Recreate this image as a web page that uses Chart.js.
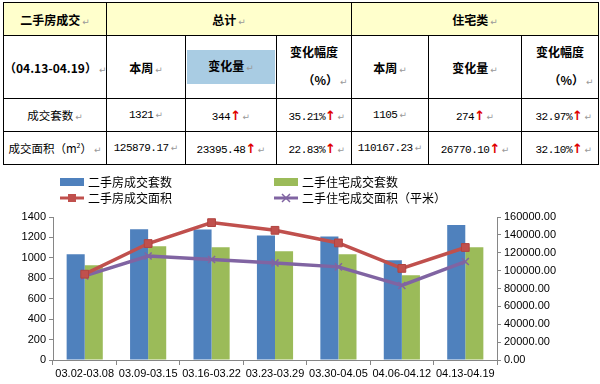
<!DOCTYPE html>
<html>
<head>
<meta charset="utf-8">
<script src="https://cdn.jsdelivr.net/npm/chart.js@4/dist/chart.umd.min.js"></script>
<style>
  html, body { margin: 0; padding: 0; background: #fff; }
  body { width: 600px; height: 384px; position: relative; overflow: hidden; }
  #tbl {
    position: absolute; left: 3px; top: 2px;
    border-collapse: collapse; table-layout: fixed; width: 595px;
    font-family: "Noto Sans CJK SC", sans-serif; font-size: 11.5px; color: #000;
  }
  #tbl td { border: 1px solid #000; text-align: center; padding: 0; white-space: nowrap; }
  #tbl tr.head td { background: #FFFFCC; font-weight: bold; font-size: 12px; height: 32px; }
  #tbl tr.sub td { height: 62px; font-weight: bold; font-size: 12px; }
  #tbl tr.data td { height: 32px; }
  .num { font-family: "Liberation Mono", "Noto Sans CJK SC", monospace; font-size: 11px; letter-spacing: -0.5px; }
  .pm { color: #999; font-size: 9px; font-weight: normal; font-family: "DejaVu Sans", sans-serif; margin-left: 2px; letter-spacing: 0; }
  .up { color: #E00000; font-weight: bold; font-size: 13px; font-family: "DejaVu Sans", sans-serif; }
  .blue { display: inline-block; background: #A9CCE3; width: 88px; line-height: 31px; }
  .r { text-align: right !important; padding-right: 6px !important; }
  sup { font-size: 7px; vertical-align: 5px; }
  #chartBox { position: absolute; left: 0; top: 165px; width: 600px; height: 219px; }
</style>
</head>
<body>
<table id="tbl">
  <colgroup>
    <col style="width:103px"><col style="width:79px"><col style="width:91px"><col style="width:75px">
    <col style="width:77px"><col style="width:93px"><col style="width:77px">
  </colgroup>
  <tbody id="tbody"></tbody>
</table>
<div id="chartBox"><canvas id="chart"></canvas></div>
<script>
// table text
const headTitles = ["二手房成交", "总计", "住宅类"];
const subTitles = ["（04.13-04.19）", "本周", "变化量", "变化幅度", "本周", "变化量", "变化幅度"];
const rowNames = ["成交套数", "成交面积（m<sup>2</sup>）"];
const rowValues = [
  ["1321", "344", "35.21%", "1105", "274", "32.97%"],
  ["125879.17", "23395.48", "22.83%", "110167.23", "26770.10", "32.10%"]
];
const rowUp = [false, true, true, false, true, true];

// chart data
const weeks = ["03.02-03.08", "03.09-03.15", "03.16-03.22", "03.23-03.29", "03.30-04.05", "04.06-04.12", "04.13-04.19"];
const totalSets = [1035, 1280, 1278, 1220, 1210, 977, 1321];
const residentialSets = [928, 1114, 1104, 1065, 1035, 830, 1105];
const totalArea = [96000, 130300, 153700, 145100, 131000, 102484, 125879.17];
const residentialArea = [94100, 116400, 112400, 108600, 104200, 83397, 110167.23];
const leftTicks = [0, 1400, 200];
const rightTicks = [0, 160000, 20000];

const PM = '<span class="pm">↵</span>';
const UP = '<span class="up">↑</span>';

let html = '<tr class="head"><td>' + headTitles[0] + PM + '</td>' +
  '<td colspan="3">' + headTitles[1] + PM + '</td>' +
  '<td colspan="3">' + headTitles[2] + PM + '</td></tr>';
html += '<tr class="sub">';
subTitles.forEach((t, i) => {
  if (i === 0) html += '<td>' + t + PM + '</td>';
  else if (t === "变化幅度") html += '<td><div style="line-height:28px">' + t + '</div><div style="line-height:28px;padding-left:22px">（%）' + PM + '</div></td>';
  else if (i === 2) html += '<td><span class="blue">' + t + PM + '</span></td>';
  else html += '<td>' + t + PM + '</td>';
});
html += '</tr>';
rowNames.forEach((name, r) => {
  html += '<tr class="data"><td>' + name + PM + '</td>';
  rowValues[r].forEach((v, c) => {
    const cls = (c === 2 || c === 5) ? 'num r' : 'num';
    html += '<td class="' + cls + '">' + v + (rowUp[c] ? UP : '') + PM + '</td>';
  });
  html += '</tr>';
});
document.getElementById("tbody").innerHTML = html;

const axisColor = "#868686";
const tickFont = { family: "Liberation Sans", size: 11 };

// two-column legend above the plot
const legendPlugin = {
  id: "twoColLegend",
  afterDraw(chart) {
    const ctx = chart.ctx;
    const cols = [60, 274];
    const rows = [17, 33];
    ctx.save();
    ctx.font = '12px "Noto Sans CJK SC"';
    ctx.textBaseline = "middle";
    chart.data.datasets.forEach((ds, i) => {
      const x = cols[i % 2];
      const y = rows[Math.floor(i / 2)];
      if (ds.type === "bar") {
        ctx.fillStyle = ds.backgroundColor;
        ctx.fillRect(x, y - 4, 24, 8);
      } else {
        ctx.strokeStyle = ds.borderColor;
        ctx.lineWidth = 3;
        ctx.beginPath();
        ctx.moveTo(x, y);
        ctx.lineTo(x + 24, y);
        ctx.stroke();
        if (ds.pointStyle === "rect") {
          ctx.fillStyle = ds.pointBackgroundColor;
          ctx.fillRect(x + 8, y - 4, 8, 8);
        } else {
          ctx.lineWidth = 1.5;
          ctx.beginPath();
          ctx.moveTo(x + 8, y - 4); ctx.lineTo(x + 16, y + 4);
          ctx.moveTo(x + 16, y - 4); ctx.lineTo(x + 8, y + 4);
          ctx.stroke();
        }
      }
      ctx.fillStyle = "#000";
      ctx.fillText(ds.label, x + 28, y);
    });
    ctx.restore();
  }
};

new Chart(document.getElementById("chart"), {
  data: {
    labels: weeks,
    datasets: [
      {
        type: "bar", label: "二手房成交套数", data: totalSets, yAxisID: "y",
        backgroundColor: "#4F81BD", order: 2,
        categoryPercentage: 0.57, barPercentage: 1
      },
      {
        type: "bar", label: "二手住宅成交套数", data: residentialSets, yAxisID: "y",
        backgroundColor: "#9BBB59", order: 2,
        categoryPercentage: 0.57, barPercentage: 1
      },
      {
        type: "line", label: "二手房成交面积", data: totalArea, yAxisID: "y1",
        borderColor: "#C0504D", borderWidth: 3.5, pointStyle: "rect", pointRadius: 5.5,
        pointBackgroundColor: "#C0504D", pointBorderColor: "#B14440", pointBorderWidth: 1,
        tension: 0, order: 1
      },
      {
        type: "line", label: "二手住宅成交面积（平米）", data: residentialArea, yAxisID: "y1",
        borderColor: "#8064A2", borderWidth: 3.5, pointStyle: "crossRot", pointRadius: 5,
        pointBorderColor: "#8064A2", pointBorderWidth: 1.5,
        tension: 0, order: 1
      }
    ]
  },
  options: {
    responsive: true,
    maintainAspectRatio: false,
    animation: false,
    layout: { padding: { top: 52, left: 0, right: 0, bottom: 0 } },
    plugins: { legend: { display: false }, tooltip: { enabled: false } },
    scales: {
      x: {
        offset: true,
        grid: { offset: true, drawOnChartArea: false, tickLength: 5, color: axisColor },
        border: { color: axisColor },
        ticks: { color: "#000", font: tickFont, maxRotation: 0, autoSkip: false, padding: 2 },
        afterFit(scale) { scale.height = 24; }
      },
      y: {
        position: "left",
        min: leftTicks[0], max: leftTicks[1],
        grid: { drawOnChartArea: false, tickLength: 4, color: axisColor },
        border: { color: axisColor },
        ticks: {
          stepSize: leftTicks[2], color: "#000", font: tickFont, padding: 3,
          callback: (v) => String(v)
        },
        afterFit(scale) { scale.width = 53; }
      },
      y1: {
        position: "right",
        min: rightTicks[0], max: rightTicks[1],
        grid: { drawOnChartArea: false, tickLength: 4, color: axisColor },
        border: { color: axisColor },
        ticks: {
          stepSize: rightTicks[2], color: "#000", font: tickFont, padding: 3,
          callback: (v) => v.toFixed(2)
        },
        afterFit(scale) { scale.width = 103; }
      }
    }
  },
  plugins: [legendPlugin]
});
</script>
</body>
</html>
